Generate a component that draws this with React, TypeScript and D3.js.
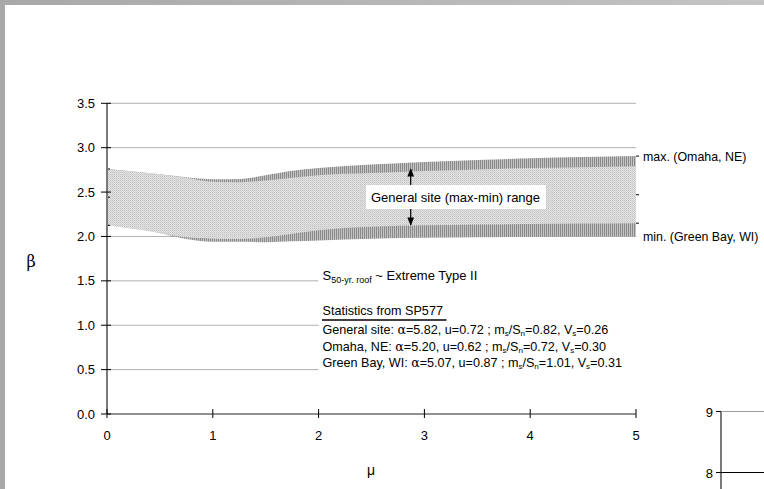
import React from "react";
import * as d3 from "d3";

const muValues = [0, 0.5, 0.75, 1, 1.25, 1.5, 1.75, 2, 2.5, 3, 3.5, 4, 4.5, 5];
const maxOmaha = [2.76, 2.7, 2.668, 2.645, 2.648, 2.69, 2.74, 2.77, 2.81, 2.84, 2.862, 2.88, 2.895, 2.905];
const generalUpper = [2.76, 2.7, 2.66, 2.615, 2.612, 2.63, 2.66, 2.69, 2.715, 2.737, 2.755, 2.77, 2.78, 2.79];
const generalLower = [2.125, 2.04, 1.99, 1.975, 1.97, 1.99, 2.03, 2.07, 2.108, 2.125, 2.135, 2.14, 2.145, 2.15];
const minGreenBay = [2.125, 2.04, 1.97, 1.94, 1.94, 1.935, 1.945, 1.955, 1.975, 1.985, 1.99, 1.995, 2.0, 2.0];
const yTicks = [0, 0.5, 1, 1.5, 2, 2.5, 3, 3.5];
const xTicks = [0, 1, 2, 3, 4, 5];
const statsLines = [
  { site: "General site: ", alpha: "5.82", u: "0.72", ms: "0.82", vs: "0.26" },
  { site: "Omaha, NE: ", alpha: "5.20", u: "0.62", ms: "0.72", vs: "0.30" },
  { site: "Green Bay, WI: ", alpha: "5.07", u: "0.87", ms: "1.01", vs: "0.31" },
];

const W = 764;
const H = 489;
const FONT = "'Liberation Sans', Arial, sans-serif";

export default function App() {
  const x = d3.scaleLinear().domain([0, 5]).range([107, 636]);
  const y = d3.scaleLinear().domain([0, 3.5]).range([414, 103.3]);
  const idx = muValues.map((_, i) => i);

  const band = (upper: number[], lower: number[]) =>
    d3
      .area<number>()
      .x((i) => x(muValues[i]))
      .y0((i) => y(lower[i]))
      .y1((i) => y(upper[i]))
      .curve(d3.curveMonotoneX)(idx) || "";

  const outer = band(maxOmaha, minGreenBay);
  const inner = band(generalUpper, generalLower);

  const arrowX = 410.7;
  const sub = 8;

  return (
    <svg
      width={W}
      height={H}
      style={{ position: "absolute", left: 0, top: 0, display: "block" }}
      fontFamily={FONT}
    >
      <defs>
        <linearGradient id="topg" x1="0" x2="1" y1="0" y2="0">
          <stop offset="0" stopColor="#a8a8a8" />
          <stop offset="1" stopColor="#c4c4c4" />
        </linearGradient>
        <pattern id="stipple" width="2" height="2" patternUnits="userSpaceOnUse">
          <rect width="2" height="2" fill="#e4e4e4" shapeRendering="crispEdges" />
          <rect width="1" height="1" fill="#c2c2c2" shapeRendering="crispEdges" />
          <rect x="1" y="1" width="1" height="1" fill="#cfcfcf" shapeRendering="crispEdges" />
        </pattern>
        <pattern id="hatch" width="2" height="2" patternUnits="userSpaceOnUse">
          <rect width="2" height="2" fill="#c4c4c4" shapeRendering="crispEdges" />
          <rect width="1" height="2" fill="#8a8a8a" shapeRendering="crispEdges" />
        </pattern>
        <marker id="ah" viewBox="0 0 10 10" refX="9" refY="5" markerWidth="7" markerHeight="7" orient="auto">
          <path d="M0,1 L10,5 L0,9 z" fill="#000" />
        </marker>
      </defs>
      <rect width={W} height={H} fill="#ffffff" />
      <rect x={0} y={0} width={W} height={5} fill="url(#topg)" />
      <rect x={0} y={0} width={5} height={H} fill="#a8a8a8" />

      {/* gridlines */}
      {yTicks.filter((t) => t > 0).map((t) => (
        <line key={"g" + t} x1={x(0)} x2={x(5)} y1={y(t)} y2={y(t)} stroke="#b0b0b0" strokeWidth={1} />
      ))}

      {/* bands */}
      <path d={outer} fill="url(#hatch)" />
      <path d={inner} fill="url(#stipple)" />

      {/* end marks */}
      {[maxOmaha, generalUpper.map((v, i) => (v + generalLower[i]) / 2), generalLower].map((s, k) => (
        <g key={"em" + k}>
          <line x1={x(0)} x2={x(0) + 3} y1={y(s[0])} y2={y(s[0])} stroke="#000" strokeWidth={1} />
          <line x1={x(5)} x2={x(5) + 3} y1={y(s[s.length - 1])} y2={y(s[s.length - 1])} stroke="#000" strokeWidth={1} />
        </g>
      ))}

      {/* white area hiding gridlines behind text */}
      <rect x={318.5} y={268} width={320} height={112} fill="#ffffff" />

      {/* axes */}
      <line x1={x(0)} x2={x(0)} y1={y(3.5)} y2={y(0)} stroke="#7a7a7a" strokeWidth={2} />
      <line x1={x(0)} x2={x(5)} y1={y(0)} y2={y(0)} stroke="#222" strokeWidth={1} />
      {yTicks.map((t) => (
        <g key={"yt" + t}>
          <line x1={x(0) - 6} x2={x(0) + 4} y1={y(t)} y2={y(t)} stroke="#000" strokeWidth={1} />
          <text x={95} y={y(t) + 4.5} textAnchor="end" fontSize={13} fill="#000">
            {d3.format(".1f")(t)}
          </text>
        </g>
      ))}
      {xTicks.map((t) => (
        <g key={"xt" + t}>
          <line x1={x(t)} x2={x(t)} y1={y(0) - 5} y2={y(0) + 4} stroke="#000" strokeWidth={1} />
          <text x={x(t)} y={440} textAnchor="middle" fontSize={13} fill="#000">
            {t}
          </text>
        </g>
      ))}

      <text x={31} y={267} textAnchor="middle" fontSize={16} fontFamily="'DejaVu Serif', serif" fill="#000">
        β
      </text>
      <text x={371} y={475} textAnchor="middle" fontSize={14} fill="#000">
        μ
      </text>

      {/* range annotation */}
      <rect x={366} y={185} width={180} height={24} fill="#ffffff" />
      <text x={371} y={202} fontSize={13} fill="#000">
        General site (max-min) range
      </text>
      <line x1={arrowX} x2={arrowX} y1={185} y2={169} stroke="#000" strokeWidth={1.2} markerEnd="url(#ah)" />
      <line x1={arrowX} x2={arrowX} y1={209} y2={225} stroke="#000" strokeWidth={1.2} markerEnd="url(#ah)" />

      <text x={643} y={161} fontSize={12.4} fill="#000">
        max. (Omaha, NE)
      </text>
      <text x={643} y={241} fontSize={12.4} fill="#000">
        min. (Green Bay, WI)
      </text>

      {/* distribution label */}
      <text x={322.5} y={280} fontSize={13} fill="#000">
        S
        <tspan fontSize={9} dy={3}>50-yr. roof</tspan>
        <tspan dy={-3}> ~ Extreme Type II</tspan>
      </text>

      <text x={322.5} y={315} fontSize={12.6} fill="#000">
        Statistics from SP577
      </text>
      <line x1={322} x2={446.5} y1={320} y2={320} stroke="#000" strokeWidth={1.6} />

      {statsLines.map((s, i) => (
        <text key={"st" + i} x={322.5} y={334 + i * 16.7} fontSize={12.6} fill="#000">
          {s.site}
          <tspan fontFamily="'DejaVu Serif', serif">α</tspan>={s.alpha}, u={s.u} ; m
          <tspan fontSize={sub} dy={2}>s</tspan>
          <tspan dy={-2}>/S</tspan>
          <tspan fontSize={sub} dy={2}>n</tspan>
          <tspan dy={-2}>={s.ms}, V</tspan>
          <tspan fontSize={sub} dy={2}>s</tspan>
          <tspan dy={-2}>={s.vs}</tspan>
        </text>
      ))}

      {/* partial neighbouring chart */}
      <line x1={721} x2={721} y1={411} y2={H} stroke="#7a7a7a" strokeWidth={2} />
      <line x1={716} x2={W} y1={411.5} y2={411.5} stroke="#a0a0a0" strokeWidth={1} />
      <line x1={716} x2={721} y1={411.5} y2={411.5} stroke="#000" strokeWidth={1} />
      <line x1={716} x2={W} y1={472.5} y2={472.5} stroke="#000" strokeWidth={1} />
      <text x={713} y={416.5} textAnchor="end" fontSize={13} fill="#000">9</text>
      <text x={713} y={477.5} textAnchor="end" fontSize={13} fill="#000">8</text>
    </svg>
  );
}
